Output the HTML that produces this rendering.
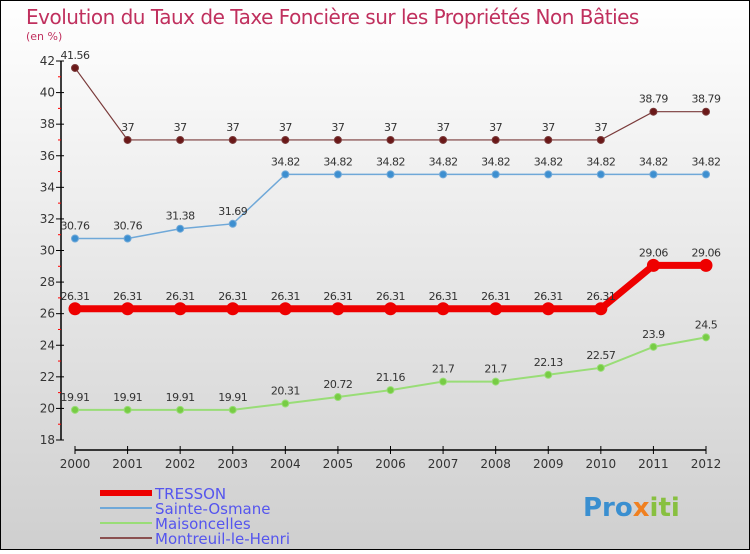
<!DOCTYPE html>
<html><head><meta charset="utf-8"><style>
html,body{margin:0;padding:0}
body{width:750px;height:550px;overflow:hidden;font-family:"DejaVu Sans","Liberation Sans",sans-serif}
</style></head><body>
<svg width="750" height="550" xmlns="http://www.w3.org/2000/svg">
<defs><linearGradient id="bg" x1="0" y1="0" x2="0" y2="1"><stop offset="0" stop-color="#ffffff"/><stop offset="1" stop-color="#cfcfcf"/></linearGradient></defs>
<rect x="0.5" y="0.5" width="749" height="549" fill="url(#bg)" stroke="#000"/>
<text x="26" y="24" font-size="20" fill="#c0305e" style="letter-spacing:-0.5px">Evolution du Taux de Taxe Foncière sur les Propriétés Non Bâties</text>
<text x="26" y="40" font-size="11" fill="#c0305e">(en %)</text>
<g id="axes"></g>
<g id="series"></g>
<g id="legend"></g>
<text x="583" y="516" font-size="26" font-weight="bold" fill="#3a8fd0">Pro<tspan fill="#f08020">x</tspan><tspan fill="#88c040">iti</tspan></text>
</svg>
<script>
const years=["2000","2001","2002","2003","2004","2005","2006","2007","2008","2009","2010","2011","2012"];
const yTicks=[18,20,22,24,26,28,30,32,34,36,38,40,42];
const tresson=[26.31,26.31,26.31,26.31,26.31,26.31,26.31,26.31,26.31,26.31,26.31,29.06,29.06];
const sainteOsmane=[30.76,30.76,31.38,31.69,34.82,34.82,34.82,34.82,34.82,34.82,34.82,34.82,34.82];
const maisoncelles=[19.91,19.91,19.91,19.91,20.31,20.72,21.16,21.7,21.7,22.13,22.57,23.9,24.5];
const montreuil=[41.56,37,37,37,37,37,37,37,37,37,37,38.79,38.79];
const NS="http://www.w3.org/2000/svg";
const X=i=>75+i*(706-75)/(years.length-1);
const Y=v=>440-(v-18)*(440-61)/24;
function mk(t,a,p){const e=document.createElementNS(NS,t);for(const k in a)e.setAttribute(k,a[k]);p.appendChild(e);return e;}
const ax=document.getElementById('axes');
const yl=mk('line',{x1:61,y1:Y(42),x2:61,y2:Y(18),stroke:'#000','stroke-width':1.5},ax);


yTicks.forEach(v=>{
 const t=mk('line',{x1:56,y1:Y(v),x2:64,y2:Y(v),stroke:'#000'},ax);
 
 
 if(v<42){const m=mk('line',{x1:58,y1:Y(v+1),x2:61,y2:Y(v+1),stroke:'#f00'},ax);
 
 }
 const l=mk('text',{x:55,y:Y(v)+4,'font-size':12,'text-anchor':'end',fill:'#333'},ax);l.textContent=v;
 
 
});
const xl=mk('line',{x1:X(0),y1:450,x2:X(12),y2:450,stroke:'#000','stroke-width':1.5},ax);


years.forEach((y,i)=>{
 const t=mk('line',{x1:X(i),y1:446,x2:X(i),y2:454,stroke:'#000'},ax);
 
 
 const l=mk('text',{x:X(i),y:468,'font-size':12,'text-anchor':'middle',fill:'#333'},ax);l.textContent=y;
 
 
});
const sg=document.getElementById('series');
function series(d,color,w,r,dot,name){
 const g=mk('g',{},sg);
 
 
 const p=mk('polyline',{points:d.map((v,i)=>X(i)+','+Y(v)).join(' '),fill:'none',stroke:color,'stroke-width':w},g);
 
 
 d.forEach((v,i)=>{
  const c=mk('circle',{cx:X(i),cy:Y(v),r:r,fill:dot,stroke:color,'stroke-width':1},g);
  
  
  const t=mk('text',{x:X(i),y:Y(v)-9,'font-size':11,'text-anchor':'middle',fill:'#333','letter-spacing':'-0.5'},g);
  t.textContent=String(v);
  
  
 });
}
series(maisoncelles,'#99dd77',2,3.5,'#77cc44','maisoncelles');
series(sainteOsmane,'#6fa8d8',1.5,3.5,'#3d8fd0','sainte-osmane');
series(montreuil,'#7a3a3a',1.2,3.5,'#6a1818','montreuil-le-henri');
series(tresson,'#ee0000',7,6,'#ee0000','tresson');
const lg=document.getElementById('legend');
[['TRESSON','#ee0000',6],['Sainte-Osmane','#6fa8d8',2],['Maisoncelles','#99dd77',2],['Montreuil-le-Henri','#8a5050',2]].forEach((e,i)=>{
 const y=493+i*15;
 const l=mk('line',{x1:100,y1:y,x2:152,y2:y,stroke:e[1],'stroke-width':e[2]},lg);
 
 
 const t=mk('text',{x:155,y:y+6,'font-size':15,fill:'#5555ee'},lg);t.textContent=e[0];
 
 
});
</script>
</body></html>
